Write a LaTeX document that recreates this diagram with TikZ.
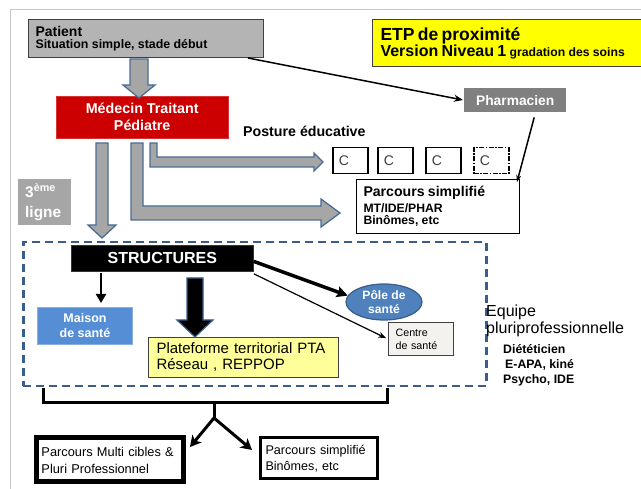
\documentclass[tikz,border=0pt]{standalone}
\usepackage{fontspec}
\setmainfont{Liberation Sans}
\usetikzlibrary{arrows.meta,calc,shapes.geometric}
\newcommand\fsz[2]{\fontsize{#1}{#2}\selectfont}
\definecolor{medred}{HTML}{CC0000}
\definecolor{patgray}{HTML}{B4B4B4}
\definecolor{etpyellow}{HTML}{FFFF00}
\definecolor{boxedge}{HTML}{404040}
\definecolor{pharmgray}{HTML}{808080}
\definecolor{arrgray}{HTML}{A6A6A6}
\definecolor{arrblue}{HTML}{4A6C96}
\definecolor{lgray}{HTML}{A6A6A6}
\definecolor{zoneblue}{HTML}{3A5E8C}
\definecolor{maisonblue}{HTML}{558ED5}
\definecolor{lightyellow}{HTML}{FFFF99}
\definecolor{poleblue}{HTML}{4F81BD}
\definecolor{poledark}{HTML}{385D8A}
\definecolor{offwhite}{HTML}{F4F2EE}
\definecolor{framegray}{HTML}{C8C8C8}
\begin{document}
\begin{tikzpicture}[x=1pt,y={(0pt,-1pt)},
  nw/.style={anchor=north west, inner ysep=0pt},
  blk/.style={fill=arrgray, draw=arrblue, line width=1.3pt, line join=miter},
  cbox/.style={nw, draw=black, line width=1.5pt, minimum width=35pt, minimum height=26pt,
     inner xsep=6pt, text width=23pt, align=left, font=\fsz{14}{16}, text=boxedge},
  thinarrow/.style={line width=1.5pt, -{Stealth[length=9pt,width=7pt]}},
  bigtip/.style={line width=3pt, -{Stealth[length=11pt,width=12pt,inset=3pt]}}
]
\useasboundingbox (0,0) rectangle (641,489);
\fill[white] (0,0) rectangle (641,489);
% slide frame
\draw[framegray, line width=1pt] (10,489) -- (10,9.5) -- (641,9.5);

% top boxes
\node[nw, draw=boxedge, line width=1pt, fill=patgray, minimum width=235pt, minimum height=38pt,
  inner xsep=7pt, text width=221pt, align=left, font=\bfseries] (patient) at (28,19)
  {\fsz{14}{15}Patient\\\fsz{12.4}{14}Situation simple, stade début};
\node[nw, draw=boxedge, line width=1pt, fill=etpyellow, minimum width=275pt, minimum height=47pt,
  inner xsep=8pt, text width=259pt, align=left, font=\bfseries] (etp) at (372,19)
  {\fsz{17.5}{19}ETP de proximité\\\fsz{16}{20}Version Niveau 1 {\fsz{12.2}{20}gradation des soins}};
\node[nw, fill=medred, draw=medred!80!white, minimum width=172pt, minimum height=42pt, inner sep=0pt,
  align=center, text=white, font=\bfseries\fsz{14.3}{17}] (medecin) at (56,96) {Médecin Traitant\\Pédiatre};
\node[nw, fill=pharmgray, minimum width=102pt, minimum height=24pt, inner sep=0pt, text=white,
  font=\bfseries\fsz{13.8}{15}] (pharma) at (464,88) {Pharmacien};
\node[anchor=base west, inner sep=0pt, font=\bfseries\fsz{14.2}{16}] (posture) at (243,137) {Posture éducative};

% C boxes
\node[cbox] (c1) at (332,147) {C};
\node[cbox] (c2) at (377,147) {C};
\node[cbox] (c3) at (425,147) {C};
\node[cbox, dash pattern=on 5pt off 1.5pt on 1.5pt off 1.5pt] (c4) at (473,147) {C};

\node[nw, draw=black, line width=1pt, fill=white, minimum width=163pt, minimum height=54pt, inner xsep=7pt,
  text width=149pt, align=left, font=\bfseries] (parcours) at (356,179)
  {\fsz{14.1}{16}Parcours simplifié\\\fsz{12.2}{16}MT/IDE/PHAR\\\fsz{12.2}{14}Binômes, etc};

\node[nw, fill=lgray, minimum width=53pt, minimum height=46pt, inner xsep=7pt, text width=39pt,
  align=left, text=white, font=\bfseries\fsz{15.4}{20}] (ligne3) at (18,179) {3\textsuperscript{ème}\\ligne};

% block arrows
\draw[blk] (130,59) -- (148,59) -- (148,85) -- (155,85) -- (139,98) -- (123,85) -- (130,85) -- cycle;
\draw[blk] (96,143) -- (108,143) -- (108,225) -- (116,225) -- (102,238) -- (88,225) -- (96,225) -- cycle;
\draw[blk] (131,143) -- (143,143) -- (143,206) -- (321,206) -- (321,199) -- (340,213) -- (321,227)
  -- (321,220) -- (131,220) -- cycle;
\draw[blk] (150,143) -- (157,143) -- (157,157) -- (314,157) -- (314,153) -- (323,162) -- (314,171)
  -- (314,167) -- (150,167) -- cycle;

% connectors top
\draw[thinarrow, shorten >=1pt] ($(patient.south east)+(-16,0)$) -- (pharma.west);
\draw[line width=1.5pt, -{Stealth[length=7pt,width=5pt]}] ($(pharma.south)+(19,5)$) -- ($(parcours.north east)+(-3,3)$);

% zone
\node[nw, draw=zoneblue, line width=2.5pt, dash pattern=on 8pt off 5pt, minimum width=463pt,
  minimum height=144pt, inner sep=0pt] (zone) at (22,241) {};

\node[nw, fill=black, draw=red!70!black, line width=0.8pt, minimum width=182pt, minimum height=26pt,
  inner sep=0pt, text=white, font=\bfseries\fsz{16}{18}] (struct) at (71,245) {STRUCTURES};
\node[nw, fill=maisonblue, draw=maisonblue!70!white, line width=1pt, minimum width=95pt, minimum height=37pt,
  inner sep=0pt, align=center, text=white, font=\bfseries\fsz{12.5}{15}] (maison) at (37,307) {Maison\\de santé};
\node[nw, fill=lightyellow, draw=boxedge, line width=1pt, minimum width=190pt, minimum height=40pt,
  inner xsep=8pt, text width=174pt, align=left, font=\fsz{15}{16}] (plateforme) at (148,337)
  {Plateforme territorial PTA\\Réseau , REPPOP};
\node[ellipse, fill=poleblue, draw=poledark, line width=1.2pt, minimum width=76pt, minimum height=36pt,
  inner sep=0pt, align=center, text=white, font=\bfseries\fsz{12.1}{14}] (pole) at (384,302) {Pôle de\\santé};
\node[nw, fill=offwhite, draw=boxedge, line width=1.2pt, minimum width=65pt, minimum height=33pt,
  inner xsep=7pt, text width=51pt, align=left, font=\fsz{10.7}{13}] (centre) at (388,322) {Centre\\de santé};

\node[anchor=base west, inner sep=0pt, align=left, font=\fsz{16}{17}] (equipe) at (486,334)
  {Equipe\\pluriprofessionnelle};
\node[anchor=base west, inner sep=0pt, align=left, font=\bfseries\fsz{12.3}{15}] (diet) at (503,384)
  {Diététicien\\\hspace*{2pt}E-APA, kiné\\Psycho, IDE};

% structure arrows
\coordinate (m1) at (101,273);
\draw[line width=2pt, -{Triangle[length=9pt,width=10pt]}, shorten >=4pt] (m1) -- (m1 |- maison.north);
\draw[fill=black, draw=poledark, line width=1.2pt, line join=miter] (187,278) -- (203,278) -- (203,320)
  -- (213,320) -- (195,337) -- (177,320) -- (187,320) -- cycle;
\draw[line width=3.5pt, -{Stealth[length=11pt,width=11pt,inset=2pt]}] ($(struct.east)+(0,3)$) -- (pole.170);
\draw[line width=1.2pt, -{Stealth[length=8pt,width=6pt]}, shorten >=2pt] ($(struct.south east)+(0,2)$) -- (centre.west);

% bottom
\node[nw, draw=black, line width=5pt, minimum width=147pt, minimum height=44pt, inner xsep=5.5pt,
  text width=136pt, align=left, font=\fsz{12.8}{17}] (pmulti) at (33.5,435.5)
  {Parcours Multi cibles \&\\Pluri Professionnel};
\node[nw, draw=black, line width=3pt, minimum width=117pt, minimum height=41pt, inner xsep=5.5pt,
  text width=106pt, align=left, font=\fsz{12.6}{16}] (psimple) at (258.5,436.5)
  {Parcours simplifié\\Binômes, etc};

\coordinate (bl) at (43,388);
\coordinate (br) at (387,388);
\coordinate (stem) at (214,403);
\coordinate (fork) at (214,418);
\coordinate (tipL) at (190,447);
\coordinate (tipR) at (252,450);
\draw[line width=3pt, line join=miter] (bl) -- (bl |- stem) -- (br |- stem) -- (br);
\draw[line width=3pt] (stem) -- (fork);
\draw[bigtip] (fork) -- (tipL);
\draw[bigtip] (fork) -- (tipR);
\end{tikzpicture}
\end{document}
